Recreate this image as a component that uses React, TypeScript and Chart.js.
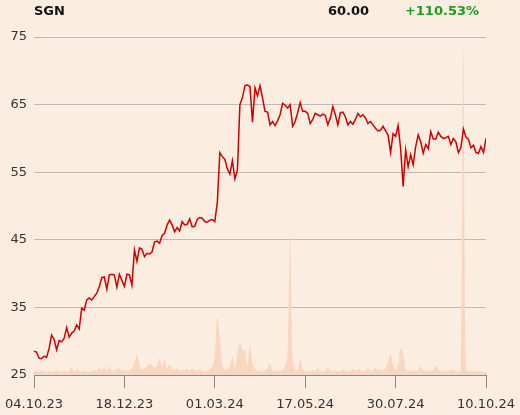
import { useEffect, useRef } from 'react';
import { Chart, registerables } from 'chart.js';
Chart.register(...registerables);

const ticker = 'SGN';
const lastPrice = '60.00';
const change = '+110.53%';
const dateLabels = ['04.10.23', '18.12.23', '01.03.24', '17.05.24', '30.07.24', '10.10.24'];

const price = [
  28.5, 28.4, 27.5, 27.4, 27.8, 27.6, 28.9, 30.9, 30.3, 28.7,
  30.1, 29.9, 30.4, 32.0, 30.6, 31.2, 31.5, 32.4, 31.8, 34.9,
  34.6, 36.1, 36.4, 36.1, 36.6, 37.1, 38.1, 39.4, 39.5, 37.7,
  39.8, 39.9, 39.8, 38.0, 39.9, 39.0, 38.1, 39.9, 39.8, 38.3,
  43.5, 41.8, 43.8, 43.6, 42.5, 43.0, 42.9, 43.2, 44.7, 44.8,
  44.5, 45.6, 46.0, 47.2, 47.9, 47.2, 46.2, 46.8, 46.3, 47.7,
  47.2, 47.3, 48.1, 46.9, 47.0, 48.0, 48.3, 48.2, 47.7, 47.6,
  47.9, 48.0, 47.7, 50.5, 57.9, 57.3, 56.9, 55.5, 54.7, 56.7,
  54.0, 55.3, 65.0, 66.0, 67.8, 67.9, 67.7, 62.4, 67.5, 66.3,
  67.8, 66.0, 64.0, 63.9, 62.0, 62.5, 61.9, 62.6, 63.5, 65.2,
  64.9, 64.5, 65.0, 61.8, 62.5, 63.8, 65.3, 64.0, 64.0, 63.7,
  62.2, 62.8, 63.7, 63.5, 63.3, 63.6, 63.4, 62.0, 63.0, 64.7,
  63.5, 62.0, 63.8, 63.9, 63.2, 62.0, 62.5, 62.1, 62.8, 63.7,
  63.2, 63.5, 63.0, 62.2, 62.5, 62.0, 61.5, 61.1, 61.2, 61.8,
  61.1, 60.5, 57.9, 60.7, 60.3, 61.9, 58.5, 52.9, 58.3, 55.8,
  57.6, 56.1, 58.8, 60.5, 59.5, 57.8, 59.1, 58.5, 61.0, 59.9,
  59.9, 60.9, 60.3, 60.0, 60.1, 60.3, 59.1, 60.0, 59.5, 57.9,
  58.6, 61.4, 60.2, 59.9, 58.6, 59.0, 57.9, 57.8, 58.8, 57.9,
  60.0,
];

const volume = [
  1.0, 1.2, 0.8, 1.5, 1.0, 0.7, 1.3, 1.0, 0.8, 1.6,
  1.1, 0.9, 1.4, 1.0, 1.2, 2.5, 1.0, 1.8, 1.2, 0.9,
  1.3, 1.0, 0.8, 1.2, 1.5, 1.0, 2.2, 1.3, 2.6, 1.5,
  2.4, 1.2, 1.4, 1.8, 2.0, 1.3, 1.6, 1.1, 1.4, 2.0,
  3.5, 6.2, 3.0, 1.5, 2.0, 2.5, 3.5, 3.0, 2.2, 2.8,
  5.0, 2.5, 4.7, 2.0, 3.2, 1.8, 1.5, 2.0, 1.2, 1.6,
  1.4, 2.0, 1.3, 1.8, 1.5, 1.2, 1.6, 1.4, 1.0, 1.3,
  1.8, 2.5, 6.0, 16.9, 11.0, 3.0, 1.5, 1.8, 2.5, 5.6,
  2.0, 6.5, 9.5, 7.5, 7.2, 3.0, 8.6, 3.5, 1.8, 1.2,
  1.5, 1.0, 1.4, 2.0, 3.5, 1.2, 1.0, 1.3, 1.1, 1.5,
  2.5, 6.5, 41.0, 5.0, 1.5, 1.3, 5.0, 1.8, 1.2, 1.0,
  1.3, 1.5, 1.1, 2.0, 1.3, 1.0, 1.2, 2.2, 1.4, 1.1,
  1.5, 1.0, 1.2, 1.6, 1.2, 1.0, 1.4, 1.8, 1.2, 2.0,
  1.5, 1.1, 1.3, 2.0, 1.2, 1.5, 2.2, 1.3, 1.8, 1.2,
  2.0, 4.0, 6.2, 3.0, 1.5, 3.0, 7.9, 6.5, 1.8, 1.2,
  1.5, 1.0, 1.3, 1.2, 2.7, 1.3, 1.1, 1.5, 1.2, 1.5,
  2.7, 1.4, 1.2, 1.0, 1.3, 1.1, 1.4, 1.6, 1.2, 1.0,
  1.5, 97.0, 2.0, 1.2, 1.0, 1.3, 1.0, 1.2, 1.0, 0.8,
  1.0,
];

const BG = '#fcede1';
const FONT = '"DejaVu Sans", sans-serif';

export default function App() {
  const ref = useRef<HTMLCanvasElement>(null);
  useEffect(() => {
    document.body.style.margin = '0';
    document.body.style.background = BG;
    const step = (price.length - 1) / (dateLabels.length - 1);
    const header = {
      id: 'header',
      afterDraw(c: any) {
        const ctx = c.ctx;
        ctx.save();
        ctx.font = 'bold 13px ' + FONT;
        ctx.textBaseline = 'alphabetic';
        ctx.fillStyle = '#111';
        ctx.textAlign = 'left';
        ctx.fillText(ticker, 34, 15);
        ctx.textAlign = 'right';
        ctx.fillText(lastPrice, 369, 15);
        ctx.fillStyle = '#1a9e1a';
        ctx.fillText(change, 479, 15);
        ctx.restore();
      },
    };
    const chart = new Chart(ref.current!, {
      type: 'line',
      data: {
        datasets: [
          {
            data: price.map((y, i) => ({ x: i, y })),
            borderColor: '#cc0000',
            borderWidth: 1.5,
            pointRadius: 0,
            tension: 0,
            fill: false,
            yAxisID: 'y',
          },
          {
            data: volume.map((y, i) => ({ x: i, y })),
            borderColor: 'rgba(0,0,0,0)',
            backgroundColor: '#f8d7c0',
            borderWidth: 0,
            pointRadius: 0,
            tension: 0.3,
            fill: 'origin',
            yAxisID: 'v',
          },
        ],
      },
      options: {
        animation: false,
        responsive: false,
        maintainAspectRatio: false,
        layout: { padding: { top: 37, right: 34, left: 0, bottom: 0 } },
        plugins: { legend: { display: false }, tooltip: { enabled: false } },
        scales: {
          x: {
            type: 'linear',
            min: 0,
            max: price.length - 1,
            afterBuildTicks: (s: any) => {
              s.ticks = dateLabels.map((_, k) => ({ value: k * step }));
            },
            ticks: {
              callback: (v: any) => dateLabels[Math.round(Number(v) / step)],
              color: '#333',
              font: { family: FONT, size: 13 },
              padding: 9,
              maxRotation: 0,
              autoSkip: false,
            },
            grid: { drawOnChartArea: false, drawTicks: true, tickLength: 13, color: '#888' },
            border: { display: true, color: '#888' },
            afterFit: (s: any) => {
              s.height = 40;
              s.paddingLeft = 0;
              s.paddingRight = 0;
            },
          },
          y: {
            min: 25,
            max: 75,
            ticks: { stepSize: 10, color: '#333', font: { family: FONT, size: 13 }, padding: 7 },
            grid: { color: '#bbb', drawTicks: false },
            border: { display: false },
            afterFit: (s: any) => { s.width = 34; },
          },
          v: { display: false, min: 0, max: 100 },
        },
      },
      plugins: [header],
    } as any);
    return () => chart.destroy();
  }, []);
  return (
    <div style={{ width: 520, height: 415, background: BG }}>
      <canvas ref={ref} width={520} height={415} style={{ display: 'block' }} />
    </div>
  );
}
